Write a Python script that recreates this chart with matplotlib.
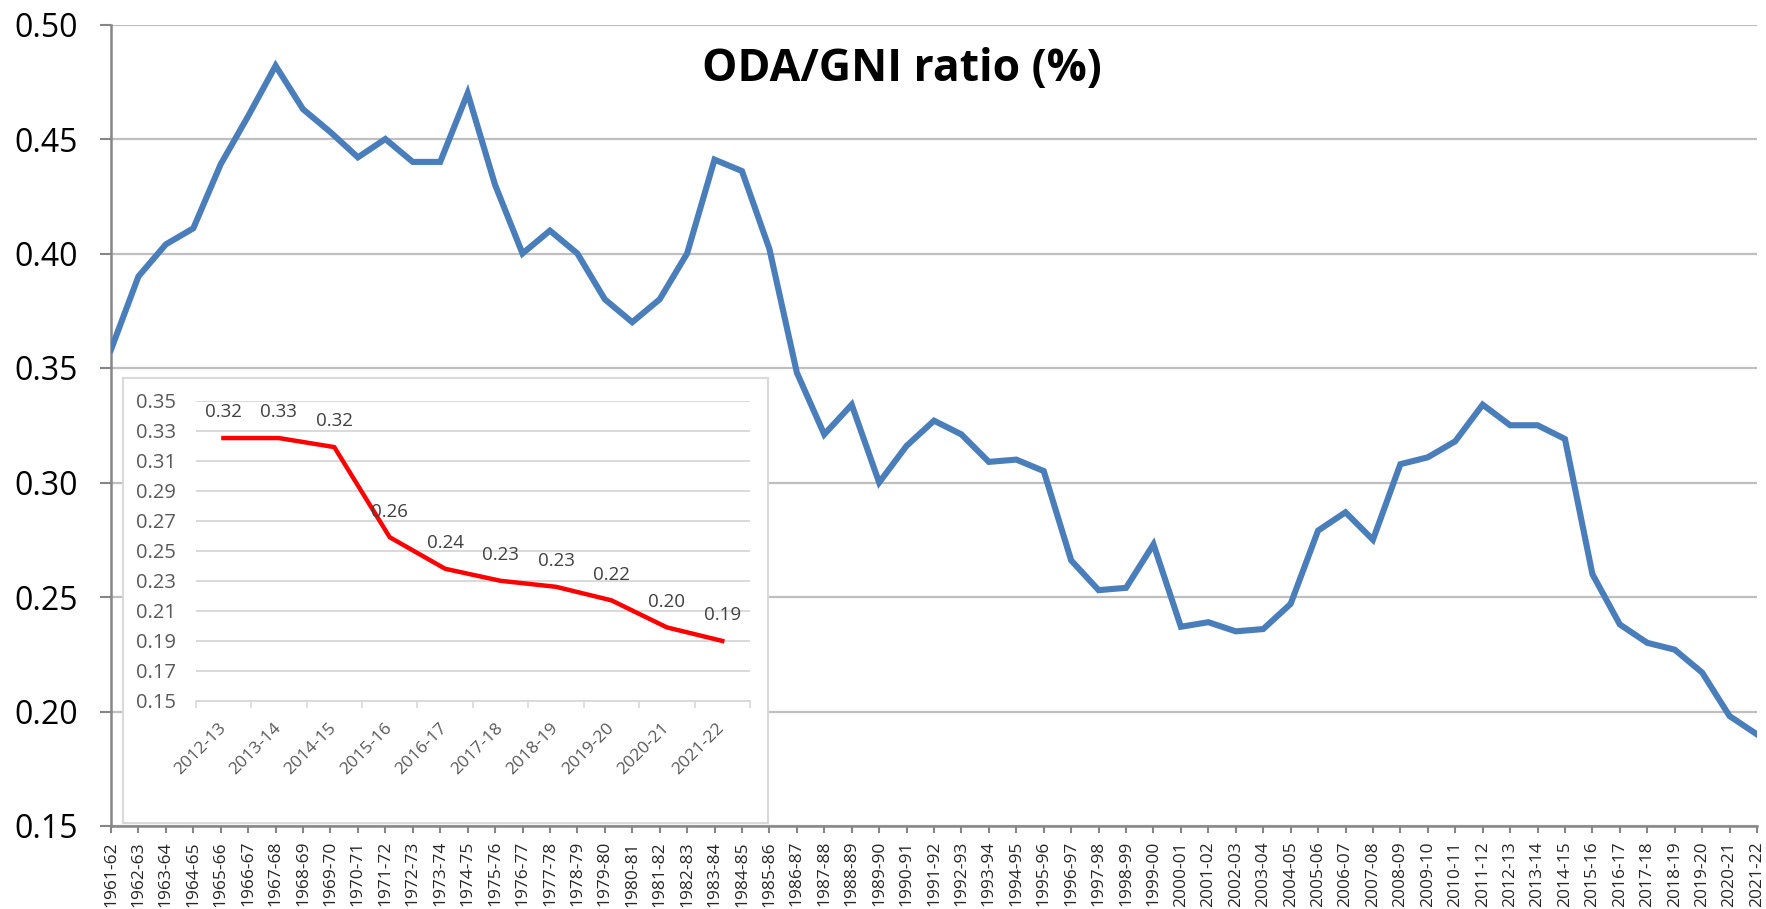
import matplotlib
matplotlib.use("Agg")
import matplotlib.pyplot as plt
import numpy as np

plt.rcParams['font.family'] = ['Open Sans', 'DejaVu Sans']

# ---------------- data ----------------
start_years = list(range(1961, 2022))
categories = [f"{y}-{(y + 1) % 100:02d}" for y in start_years]
oda_gni = [0.358, 0.390, 0.404, 0.411, 0.439, 0.460, 0.482, 0.463, 0.453, 0.442,
           0.450, 0.440, 0.440, 0.470, 0.430, 0.400, 0.410, 0.400, 0.380, 0.370,
           0.380, 0.400, 0.441, 0.436, 0.402, 0.348, 0.321, 0.334, 0.300, 0.316,
           0.327, 0.321, 0.309, 0.310, 0.305, 0.266, 0.253, 0.254, 0.273, 0.237,
           0.239, 0.235, 0.236, 0.247, 0.279, 0.287, 0.275, 0.308, 0.311, 0.318,
           0.334, 0.325, 0.325, 0.319, 0.260, 0.238, 0.230, 0.227, 0.217, 0.198,
           0.190]
main_yticks = [0.15, 0.20, 0.25, 0.30, 0.35, 0.40, 0.45, 0.50]

inset_categories = ["2012-13", "2013-14", "2014-15", "2015-16", "2016-17",
                    "2017-18", "2018-19", "2019-20", "2020-21", "2021-22"]
inset_values = [0.325, 0.325, 0.319, 0.259, 0.238, 0.230, 0.226, 0.217, 0.199, 0.190]
inset_labels = ["0.32", "0.33", "0.32", "0.26", "0.24", "0.23", "0.23", "0.22", "0.20", "0.19"]
inset_yticks = [0.15, 0.17, 0.19, 0.21, 0.23, 0.25, 0.27, 0.29, 0.31, 0.33, 0.35]

title = "ODA/GNI ratio (%)"

# ---------------- figure ----------------
W, H = 1766, 909
fig = plt.figure(figsize=(W / 100, H / 100), dpi=100)

def fx(px):
    return px / W

def fy(py):
    return 1 - py / H

# main axes: left 111, right 1757, top 24.5, bottom 826
ax = fig.add_axes([fx(111), fy(826), fx(1757 - 111), (826 - 24.5) / H])
ax.set_zorder(0)
x = np.arange(len(categories))
ax.plot(x, oda_gni, color='#4a7ebb', lw=4.4, solid_joinstyle='miter', zorder=3)
ax.set_xlim(0, len(categories) - 1)
ax.set_ylim(0.15, 0.50)
ax.set_yticks(main_yticks)
ax.set_yticklabels([f"{v:.2f}" for v in main_yticks])
ax.set_xticks(x)
ax.set_xticklabels(categories, rotation=90, fontsize=12.5, color='#262626')
ax.grid(axis='y', color='#bfbfbf', lw=1.6)
ax.set_axisbelow(True)
for s in ['top', 'right']:
    ax.spines[s].set_visible(False)
for s in ['left', 'bottom']:
    ax.spines[s].set_color('#868686')
    ax.spines[s].set_linewidth(1.8)
ax.tick_params(axis='y', labelsize=23, colors='#868686', labelcolor='black',
               length=8, width=1.5, pad=16)
ax.tick_params(axis='x', colors='#868686', labelcolor='#262626',
               length=4.8, width=1.5, pad=6)

fig.text(fx(902), fy(70), title, ha='center', va='center', fontsize=32,
         fontweight='bold', color='black')

# inset frame: x 122.7..768, y 377.7..823
box = fig.add_axes([fx(122.7), fy(823), fx(768 - 122.7), (823 - 377.7) / H])
box.set_zorder(2)
box.set_facecolor('white')
box.set_xticks([])
box.set_yticks([])
for s in box.spines.values():
    s.set_color('#d9d9d9')
    s.set_linewidth(1.5)

# inset plot area: x 195.7..750, y 400.5..701
ins = fig.add_axes([fx(195.7), fy(701), fx(750 - 195.7), (701 - 400.5) / H])
ins.set_zorder(3)
ins.patch.set_alpha(0)
xi = np.arange(len(inset_categories))
ins.plot(xi, inset_values, color='#ff0000', lw=3.2, zorder=3)
for xv, yv, lab in zip(xi, inset_values, inset_labels):
    ins.annotate(lab, (xv, yv), xytext=(0, 12), textcoords='offset points',
                 ha='center', va='bottom', fontsize=13.5, color='#404040')
ins.set_xlim(-0.5, len(inset_categories) - 0.5)
ins.set_ylim(0.15, 0.35)
ins.set_yticks(inset_yticks)
ins.set_yticklabels([f"{v:.2f}" for v in inset_yticks])
ins.set_xticks(np.arange(-0.5, len(inset_categories), 1.0), minor=False)
ins.set_xticklabels([])
ins.set_xticks(xi, minor=True)
ins.set_xticklabels(inset_categories, minor=True, rotation=45, ha='right',
                    va='center', rotation_mode='anchor', fontsize=12.5, color='#595959')
ins.tick_params(axis='x', which='major', length=5, width=1.2, colors='#d9d9d9')
ins.tick_params(axis='x', which='minor', length=0, pad=17.5, labelcolor='#595959')
ins.tick_params(axis='y', length=0, labelsize=14.5, labelcolor='#595959', pad=14)
ins.grid(axis='y', color='#d9d9d9', lw=1.4)
ins.set_axisbelow(True)
for s in ['top', 'right', 'left']:
    ins.spines[s].set_visible(False)
ins.spines['bottom'].set_color('#d9d9d9')
ins.spines['bottom'].set_linewidth(1.4)

fig.savefig('out.png', dpi=100)
